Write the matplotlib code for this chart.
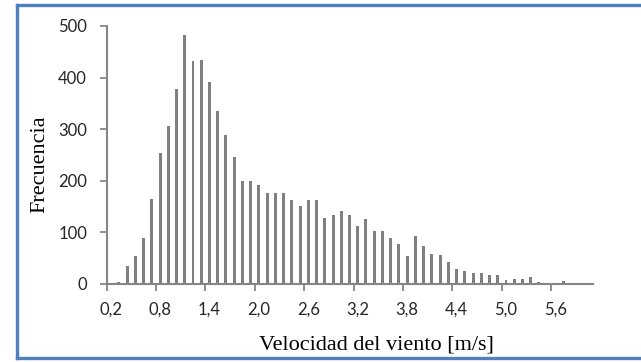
import numpy as np
import matplotlib.pyplot as plt
from matplotlib.lines import Line2D

# wind speed classes 0,2 ... 6,0 m/s (step 0,1)
velocidad = [round(0.1 * k, 1) for k in range(2, 61)]
frecuencia = [0, 3, 34, 55, 90, 164, 254, 306, 377, 483,
              432, 435, 391, 336, 289, 247, 200, 200, 192, 176,
              177, 177, 163, 152, 163, 163, 128, 134, 141, 134,
              112, 126, 103, 103, 90, 77, 55, 93, 73, 59,
              57, 43, 30, 25, 22, 22, 17, 17, 8, 10,
              9, 13, 4, 1, 1, 6, 0, 0, 0]
xlabels = ["0,2", "0,8", "1,4", "2,0", "2,6", "3,2", "3,8", "4,4", "5,0", "5,6"]
ylabels = ["0", "100", "200", "300", "400", "500"]

grey = '#868686'
txt = '#262626'

fig = plt.figure(figsize=(6.41, 3.62), dpi=100)
ax = fig.add_axes([106.5/641, 1-284/362, 486/641, 258/362])

x = np.arange(len(velocidad))
ax.bar(x, frecuencia, width=0.36, color='#808080', zorder=2)

ax.set_xlim(-0.5, len(velocidad) - 0.5)
ax.set_ylim(0, 500)

# labels every 6th class, tick marks on class borders
ax.set_xticks(x[::6])
ax.set_xticklabels(xlabels, fontsize=12, family='Lato', color=txt)
ax.set_xticks(x[::6] - 0.5, minor=True)
ax.tick_params(axis='x', which='major', length=0, pad=13)
ax.tick_params(axis='x', which='minor', length=5, width=1.3, color=grey, direction='out')

ax.set_yticks([0, 100, 200, 300, 400, 500])
ax.set_yticklabels(ylabels, fontsize=12, family='Lato', color=txt)
ax.tick_params(axis='y', length=5, width=1.3, color=grey, pad=9)

for s in ['top', 'right']:
    ax.spines[s].set_visible(False)
for s in ['left', 'bottom']:
    ax.spines[s].set_color(grey)
    ax.spines[s].set_linewidth(1.5)

fig.text(376/641, 1-345/362, "Velocidad del viento [m/s]", ha='center', va='center',
         fontsize=16, family='Liberation Serif', color='black')
fig.text(40/641, 1-164/362, "Frecuencia", ha='center', va='center', rotation=90,
         fontsize=16, family='Liberation Serif', color='black')

# blue frame around the chart
blue = '#4f81bd'
fig.add_artist(Line2D([17/641, 17/641], [1-358/362, 1-5/362], color=blue, lw=2.4, transform=fig.transFigure))
fig.add_artist(Line2D([17/641, 1], [1-358/362, 1-358/362], color=blue, lw=2.4, transform=fig.transFigure))
fig.add_artist(Line2D([17/641, 1], [1-5/362, 1-5/362], color=blue, lw=2.4, transform=fig.transFigure))

fig.savefig('out.png', dpi=100)
